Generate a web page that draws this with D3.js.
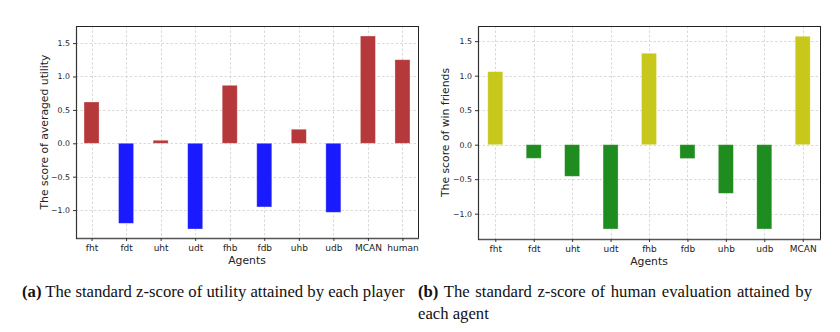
<!DOCTYPE html>
<html><head><meta charset="utf-8">
<script src="https://cdn.jsdelivr.net/npm/d3@7"></script>
<style>
body{margin:0;background:#fff;}
svg{display:block;}
</style></head>
<body>
<svg id="c" width="840" height="332"></svg>
<script>
const agentsA = ["fht","fdt","uht","udt","fhb","fdb","uhb","udb","MCAN","human"];
const utilityScores = [0.618, -1.198, 0.045, -1.283, 0.868, -0.953, 0.21, -1.033, 1.606, 1.251];
const agentsB = ["fht","fdt","uht","udt","fhb","fdb","uhb","udb","MCAN"];
const winFriendScores = [1.058, -0.197, -0.458, -1.222, 1.325, -0.2, -0.705, -1.222, 1.571];
const yTicksA = [-1.0, -0.5, 0.0, 0.5, 1.0, 1.5];
const yTicksB = [-1.0, -0.5, 0.0, 0.5, 1.0, 1.5];

const svg = d3.select("#c");

function panel(opt){
  const g = svg.append("g");
  const x = d3.scaleLinear().domain([-0.45, opt.cats.length - 1 + 0.45]).range([opt.left, opt.right]);
  const y = d3.scaleLinear().domain(opt.ydom).range([opt.bottom, opt.top]);
  const bw = opt.bw;
  g.append("g").selectAll("line").data(opt.yticks).join("line")
    .attr("x1", opt.left).attr("x2", opt.right)
    .attr("y1", d => Math.round(y(d))+0.5).attr("y2", d => Math.round(y(d))+0.5)
    .attr("stroke", "#cfcfcf").attr("stroke-width", 0.8).attr("stroke-dasharray", "2.5,2");
  g.append("g").selectAll("line").data(opt.cats.map((c,i)=>i)).join("line")
    .attr("y1", opt.top).attr("y2", opt.bottom)
    .attr("x1", d => Math.round(x(d))+0.5).attr("x2", d => Math.round(x(d))+0.5)
    .attr("stroke", "#cfcfcf").attr("stroke-width", 0.8).attr("stroke-dasharray", "2.5,2");
  g.append("g").selectAll("rect").data(opt.vals).join("rect")
    .attr("x", (d,i) => x(i) - bw/2)
    .attr("width", bw)
    .attr("y", d => y(Math.max(0,d)))
    .attr("height", d => Math.abs(y(d) - y(0)))
    .attr("fill", d => d >= 0 ? opt.pos : opt.neg)
    .attr("stroke", "#fff").attr("stroke-opacity", 0.35).attr("stroke-width", 0.8);
  g.append("rect").attr("x", opt.left+0.5).attr("y", opt.top+0.5)
    .attr("width", opt.right-opt.left).attr("height", opt.bottom-opt.top)
    .attr("fill","none").attr("stroke","#222").attr("stroke-width",1);
  g.append("line").attr("x1",opt.left).attr("x2",opt.right+1).attr("y1",opt.bottom+0.5).attr("y2",opt.bottom+0.5)
    .attr("stroke","#555").attr("stroke-width",1.6);
  g.append("line").attr("x1",opt.left+0.5).attr("x2",opt.left+0.5).attr("y1",opt.top).attr("y2",opt.bottom+1)
    .attr("stroke","#333").attr("stroke-width",1.2);
  const ya = d3.axisLeft(y).tickValues(opt.yticks).tickSize(3).tickPadding(3)
    .tickFormat(d => d3.format(".1f")(d).replace("-", "\u2212"));
  g.append("g").attr("transform", `translate(${opt.left},0)`).call(ya)
    .call(s => s.select(".domain").remove())
    .call(s => s.selectAll("text").attr("font-family","DejaVu Sans").attr("font-size",7.8).attr("fill","#222"))
    .call(s => s.selectAll("line").attr("stroke","#333"));
  const xa = d3.axisBottom(x).tickValues(opt.cats.map((c,i)=>i)).tickSize(3).tickPadding(3.5)
    .tickFormat(i => opt.cats[i]);
  g.append("g").attr("transform", `translate(0,${opt.bottom})`).call(xa)
    .call(s => s.select(".domain").remove())
    .call(s => s.selectAll("text").attr("font-family","DejaVu Sans").attr("font-size",9).attr("fill","#222"))
    .call(s => s.selectAll("line").attr("stroke","#333"));
  g.append("text").attr("x", (opt.left+opt.right)/2).attr("y", opt.bottom+26)
    .attr("text-anchor","middle").attr("font-family","DejaVu Sans").attr("font-size",10.8).attr("fill","#222")
    .text("Agents");
  g.append("text").attr("transform", `translate(${opt.ylabX},${(opt.top+opt.bottom)/2}) rotate(-90)`)
    .attr("text-anchor","middle").attr("font-family","DejaVu Sans").attr("font-size",10.8).attr("fill","#222")
    .text(opt.ylab);
}

panel({cats: agentsA, vals: utilityScores, yticks: yTicksA,
  left: 76, right: 418, top: 26, bottom: 238, ydom: [-1.418, 1.756], bw: 15,
  pos: "#b5383a", neg: "#1a1aff", ylab: "The score of averaged utility", ylabX: 48});
panel({cats: agentsB, vals: winFriendScores, yticks: yTicksB,
  left: 478, right: 820, top: 26, bottom: 239, ydom: [-1.367, 1.72], bw: 15,
  pos: "#c8c81c", neg: "#1e8c1e", ylab: "The score of win friends", ylabX: 449});

// captions: horizontally condensed Times-like text
const cap = svg.append("g").attr("font-family","Liberation Serif, Times New Roman, serif").attr("font-size",16).attr("fill","#111");
const ga = cap.append("g");
const ca = ga.append("text").attr("x",0).attr("y",0);
ca.append("tspan").attr("font-weight","bold").text("(a)");
ca.append("tspan").text(" The standard z-score of utility attained by each player");
const wa = ca.node().getComputedTextLength();
const sx = 383 / wa;
ga.attr("transform", `translate(22,297) scale(${sx},1)`);

const gb = cap.append("g").attr("transform", `translate(418,297) scale(${sx},1)`);
const cb = gb.append("text").attr("x",0).attr("y",0);
cb.append("tspan").attr("font-weight","bold").text("(b)");
cb.append("tspan").text(" The standard z-score of human evaluation attained by");
const wb = cb.node().getComputedTextLength();
const nSpaces = 8;
cb.attr("word-spacing", Math.max(0, (394/sx - wb) / nSpaces));

const gc = cap.append("g").attr("transform", `translate(418,319) scale(${sx},1)`);
gc.append("text").attr("x",0).attr("y",0).text("each agent");
</script>
</body></html>
